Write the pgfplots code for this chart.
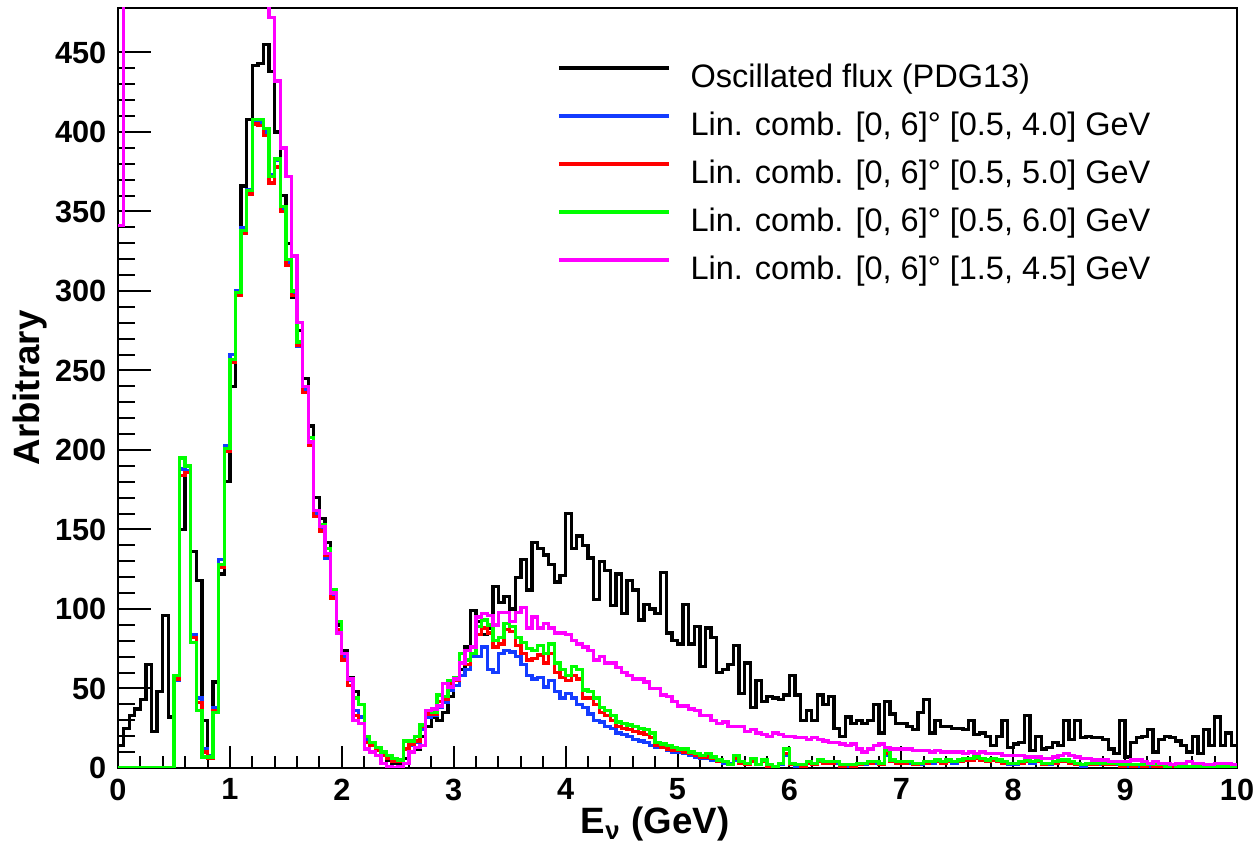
\documentclass[border=0pt]{standalone}
\usepackage{fontspec}
\setmainfont{Liberation Sans}
\usepackage{pgfplots}
\usepackage{pgfplotstable}
\pgfplotsset{compat=1.18}

\definecolor{rootblue}{RGB}{20,60,255}
\definecolor{rootred}{RGB}{255,0,0}
\definecolor{rootgreen}{RGB}{0,255,0}
\definecolor{rootmagenta}{RGB}{255,0,255}

% E = low bin edge (0.05 GeV bins); bk = oscillated flux, bl/rd/gr/mg = lin. comb. fits
\pgfplotstableread{
E    bk  bl  rd  gr  mg
0.00 14  0   0   0   341
0.05 25  0   0   0   600
0.10 33  0   0   0   600
0.15 37  0   0   0   600
0.20 43  0   0   0   600
0.25 65  0   0   0   600
0.30 23  0   0   0   600
0.35 48  0   0   0   600
0.40 96  0   0   0   600
0.45 32  0   0   0   600
0.50 55  55  56  58  600
0.55 150 188 184 195 600
0.60 190 187 186 190 600
0.65 136 84  82  79  600
0.70 118 44  41  36  600
0.75 30  12  10  7   600
0.80 8   8   6   7   600
0.85 54  38  36  35  600
0.90 122 131 126 128 600
0.95 180 203 199 201 600
1.00 240 260 255 257 600
1.05 300 300 297 299 600
1.10 366 340 336 338 600
1.15 408 364 361 363 600
1.20 442 407 405 408 600
1.25 443 406 404 408 600
1.30 455 400 398 402 600
1.35 438 373 368 372 472
1.40 400 382 378 383 432
1.45 360 352 350 353 390
1.50 330 318 316 320 372
1.55 296 298 297 300 322
1.60 275 265 266 268 280
1.65 245 238 236 240 240
1.70 215 205 203 208 205
1.75 170 160 158 162 162
1.80 157 150 149 153 152
1.85 142 132 134 138 135
1.90 112 108 107 112 110
1.95 90  86  87  92  85
2.00 74  70  68  72  72
2.05 57  55  52  56  56
2.10 48  36  33  44  30
2.15 40  32  28  40  28
2.20 18  18  16  20  12
2.25 16  15  14  16  10
2.30 11  12  11  13  8
2.35 8   9   8   10  3
2.40 5   7   6   8   1
2.45 3   5   4   6   0
2.50 3   4   4   5   1
2.55 6   12  12  17  3
2.60 10  14  15  17  10
2.65 12  16  17  20  13
2.70 20  24  26  27  14
2.75 26  32  34  36  36
2.80 32  33  34  35  37
2.85 30  38  42  46  39
2.90 35  41  43  45  53
2.95 45  49  53  55  51
3.00 52  52  55  57  56
3.05 62  58  66  72  66
3.10 76  62  65  68  74
3.15 99  70  72  72  76
3.20 92  70  84  89  95
3.25 84  76  88  93  97
3.30 88  62  85  90  96
3.35 114 60  76  80  90
3.40 104 72  78  82  98
3.45 108 74  87  91  98
3.50 100 73  86  89  92
3.55 120 70  77  82  98
3.60 131 65  72  79  101
3.65 112 58  68  75  88
3.70 142 56  69  74  95
3.75 138 57  71  77  88
3.80 134 51  66  72  91
3.85 128 55  72  78  88
3.90 117 48  60  66  85
3.95 121 44  57  62  85
4.00 160 47  55  58  84
4.05 138 44  58  64  80
4.10 146 40  56  62  78
4.15 140 38  44  49  76
4.20 132 34  44  48  74
4.25 106 30  40  44  68
4.30 130 29  35  38  70
4.35 124 26  33  36  66
4.40 102 25  30  33  66
4.45 122 22  26  29  63
4.50 97  21  25  28  60
4.55 118 20  24  27  58
4.60 112 18  23  26  56
4.65 93  17  22  25  56
4.70 103 16  21  24  54
4.75 100 14  19  22  50
4.80 97  13  14  16  50
4.85 123 13  13  15  46
4.90 85  11  12  14  45
4.95 80  10  11  13  42
5.00 78  10  11  12  39
5.05 103 9   10  12  39
5.10 78  8   9   10  37
5.15 89  7   8   9   36
5.20 64  6   7   8   33
5.25 88  6   7   9   33
5.30 82  5   6   7   30
5.35 60  4   4   5   28
5.40 62  3   4   4   29
5.45 65  3   2   2   26
5.50 77  5   6   8   26
5.55 47  3   3   4   26
5.60 66  2   2   3   23
5.65 38  5   4   6   24
5.70 55  2   2   2   22
5.75 42  4   4   5   21
5.80 45  2   1   2   20
5.85 44  1   1   1   22
5.90 43  2   3   3   21
5.95 46  8   9   12  20
6.00 58  2   2   3   20
6.05 46  1   2   2   19
6.10 30  1   1   2   19
6.15 36  3   3   4   18
6.20 30  2   2   3   19
6.25 46  4   4   5   18
6.30 40  3   3   4   17
6.35 45  3   3   4   16
6.40 25  3   4   4   16
6.45 20  1   1   2   15
6.50 32  1   2   2   14
6.55 28  1   1   2   15
6.60 30  2   2   3   12
6.65 28  2   3   3   10
6.70 30  3   3   4   12
6.75 40  3   4   4   14
6.80 22  2   2   3   15
6.85 42  8   9   11  13
6.90 34  4   4   5   12
6.95 28  3   3   4   12
7.00 28  3   3   4   12
7.05 26  3   4   4   12
7.10 24  2   2   3   11
7.15 35  2   3   3   11
7.20 43  3   3   4   11
7.25 22  3   4   4   10
7.30 30  4   4   5   11
7.35 26  3   3   4   10
7.40 26  4   4   5   10
7.45 25  3   4   4   10
7.50 25  4   4   5   10
7.55 24  5   5   6   9
7.60 30  5   5   6   10
7.65 21  6   6   7   9
7.70 22  5   5   6   10
7.75 20  4   4   5   9
7.80 14  5   5   6   9
7.85 20  4   4   5   9
7.90 30  3   3   4   8
7.95 13  2   3   3   8
8.00 15  2   3   3   8
8.05 16  3   3   4   8
8.10 33  4   4   5   7
8.15 11  3   4   4   7
8.20 20  4   4   5   7
8.25 12  2   2   3   6
8.30 13  2   3   3   6
8.35 16  3   3   4   7
8.40 14  4   4   5   8
8.45 30  4   4   5   9
8.50 18  3   3   4   8
8.55 30  2   2   3   7
8.60 19  1   2   2   6
8.65 20  2   2   3   6
8.70 19  2   2   3   5
8.75 19  2   3   3   5
8.80 18  2   2   3   5
8.85 12  2   2   3   4
8.90 9   2   3   3   4
8.95 30  1   1   2   4
9.00 7   1   2   2   4
9.05 16  1   1   2   5
9.10 19  1   2   2   5
9.15 20  1   1   2   4
9.20 24  1   2   2   3
9.25 10  1   1   2   4
9.30 18  1   1   2   3
9.35 20  0   1   1   3
9.40 19  1   1   2   2
9.45 17  0   1   1   3
9.50 14  0   0   1   3
9.55 10  0   1   1   4
9.60 20  0   0   1   3
9.65 9   0   1   1   3
9.70 24  0   0   1   2
9.75 14  0   1   1   2
9.80 32  0   0   1   3
9.85 14  0   1   1   3
9.90 22  0   0   1   3
9.95 14  0   1   1   2
10.00 14 0   1   1   2
}\flux

\begin{document}
\begin{tikzpicture}
\begin{axis}[
    scale only axis,
    width=335.7pt,
    height=228pt,
    xmin=0, xmax=10,
    ymin=0, ymax=478,
    xtick={0,1,...,10},
    ytick={0,50,...,450},
    minor x tick num=4,
    minor y tick num=4,
    tick pos=left,
    tick align=inside,
    major tick length=6.6pt,
    minor tick length=3.6pt,
    ytick style={/pgfplots/major tick length=9.9pt, /pgfplots/minor tick length=5.1pt},
    tick style={line width=0.6pt, black},
    axis line style={line width=0.6pt},
    /pgf/number format/assume math mode=true,
    ticklabel style={font=\fontsize{9.2}{10}\selectfont\bfseries},
    xticklabel style={inner sep=0pt, yshift=-3pt},
    xlabel={E\textsubscript{ν} (GeV)},
    ylabel={Arbitrary},
    label style={font=\fontsize{11}{13}\selectfont\bfseries},
    xlabel style={at={(axis description cs:0.48,-0.051)}, anchor=north, inner sep=0pt},
    ylabel style={at={(axis description cs:-0.0786,0.5)}, anchor=center},
    legend cell align=left,
    legend style={draw=none, fill=none, at={(0.383,0.936)}, anchor=north west,
        font=\fontsize{9.75}{11}\selectfont, row sep=5pt, column sep=6pt,
        nodes={inner sep=0pt, text height=7.2pt, text depth=2.2pt}},
    legend image code/.code={\draw[#1,/tikz/.cd] (0pt,3.5pt) -- (33pt,3.5pt);},
    every axis plot/.append style={const plot, line width=1.0pt},
]
\addplot[black] table[x=E, y=bk] {\flux};
\addlegendentry{Oscillated flux (PDG13)}
\addplot[rootblue] table[x=E, y=bl] {\flux};
\addlegendentry{Lin. comb. [0, 6]° [0.5, 4.0] GeV}
\addplot[rootred] table[x=E, y=rd] {\flux};
\addlegendentry{Lin. comb. [0, 6]° [0.5, 5.0] GeV}
\addplot[rootgreen] table[x=E, y=gr] {\flux};
\addlegendentry{Lin. comb. [0, 6]° [0.5, 6.0] GeV}
\addplot[rootmagenta] table[x=E, y=mg] {\flux};
\addlegendentry{Lin. comb. [0, 6]° [1.5, 4.5] GeV}
\end{axis}
\pgfresetboundingbox
\path (-35.4pt,-23.1pt) rectangle (342.6pt,230.4pt);
\end{tikzpicture}
\end{document}
